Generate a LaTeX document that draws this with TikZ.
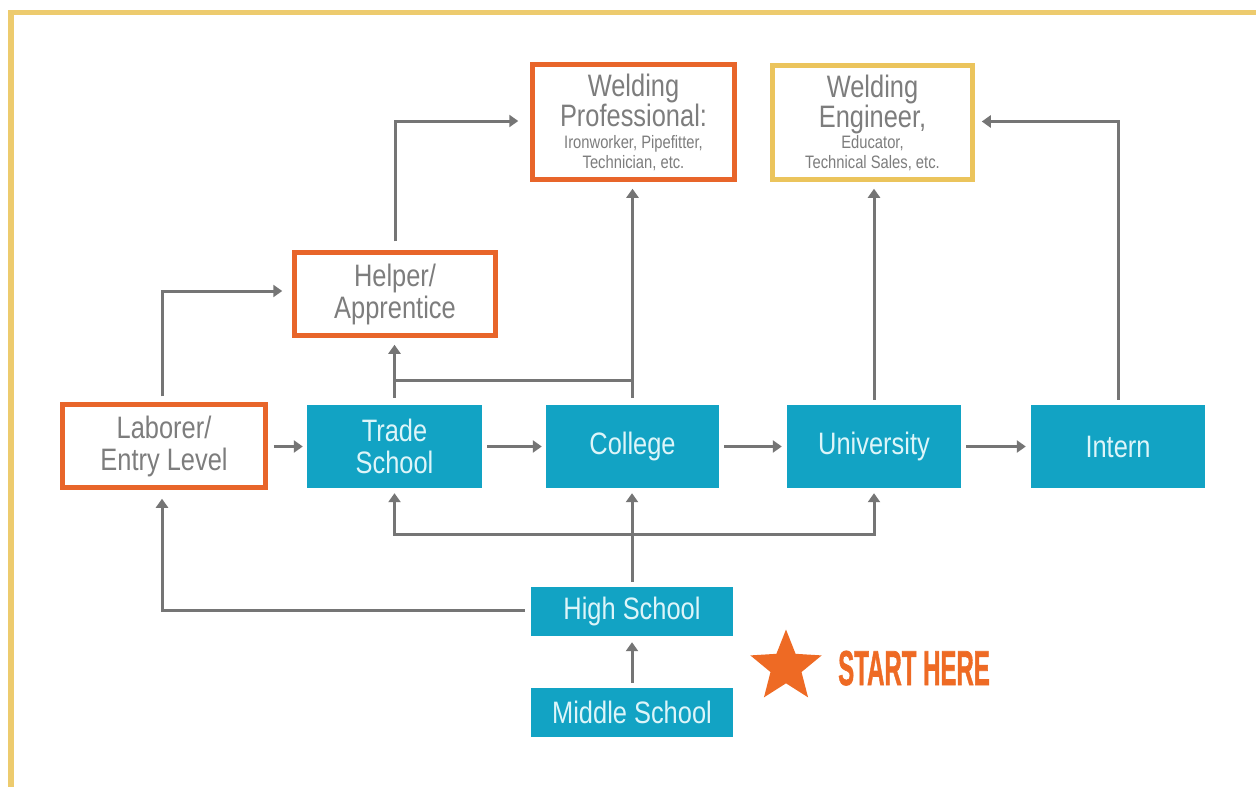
\documentclass[tikz,border=0pt]{standalone}
\usepackage{fontspec}
\setmainfont{Liberation Sans}[FakeStretch=0.82]
\newfontfamily\shfont{Liberation Sans}[FakeBold=1.5]
\usetikzlibrary{arrows.meta,shapes.geometric,calc}
\definecolor{tealc}{HTML}{12A3C4}
\definecolor{orng}{HTML}{E8652A}
\definecolor{goldc}{HTML}{EBC45C}
\definecolor{framec}{HTML}{EDCB6E}
\definecolor{arr}{HTML}{757575}
\definecolor{gtxt}{HTML}{7D7D7D}
\definecolor{ltxt}{HTML}{DDF5F9}
\definecolor{starc}{HTML}{EE6A24}
\newcommand\smalltxt{\fontsize{18}{19}\selectfont}
\begin{document}
\begin{tikzpicture}[x=1pt,y=-1pt,
  tbox/.style={rectangle, fill=tealc, text=ltxt, inner sep=0pt, minimum width=174pt, minimum height=83pt, align=center, font=\fontsize{31}{32}\selectfont},
  obox/.style={rectangle, draw=orng, line width=4.5pt, fill=white, text=gtxt, inner sep=0pt, align=center, font=\fontsize{31}{32}\selectfont},
  conn/.style={draw=arr, line width=3pt, -{Triangle[length=9pt,width=12pt]}},
  conn2/.style={draw=arr, line width=3pt, {Triangle[length=9pt,width=12pt]}-{Triangle[length=9pt,width=12pt]}},
  plain/.style={draw=arr, line width=3pt},
]
\useasboundingbox (0,0) rectangle (1256,787);
\fill[white] (0,0) rectangle (1256,787);
\draw[framec, line width=5.5pt] (11,787) -- (11,12.5) -- (1256,12.5);

% nodes
\node[obox, minimum width=203pt, minimum height=83pt] (lab) at (164,446) {Laborer/\\Entry Level};
\node[tbox, minimum width=175pt] (trade) at (394.5,446.5) {Trade\\School};
\node[tbox, minimum width=173pt] (coll) at (632.5,446.5) {College};
\node[tbox] (univ) at (874,446.5) {University};
\node[tbox] (intern) at (1118,446.5) {Intern};
\node[tbox, minimum width=202pt, minimum height=49pt] (hs) at (632,611.5) {High School};
\node[tbox, minimum width=202pt, minimum height=49pt] (ms) at (632,712.5) {Middle School};
\node[obox, minimum width=201pt, minimum height=83pt] (help) at (395,294) {Helper/\\Apprentice};
\node[obox, minimum width=202pt, minimum height=115pt, font=\fontsize{31}{30}\selectfont] (wp) at (633.5,122) {Welding\\Professional:\\[-8pt]\smalltxt Ironworker, Pipefitter,\\[-10pt]\smalltxt Technician, etc.};
\node[obox, draw=goldc, minimum width=200pt, minimum height=114pt, font=\fontsize{31}{30}\selectfont] (we) at (872.5,122.5) {Welding\\Engineer,\\[-9pt]\smalltxt Educator,\\[-10pt]\smalltxt Technical Sales, etc.};
\node[star, star points=5, star point ratio=2.3, fill=starc, minimum size=75pt, inner sep=0pt] (st) at (786,667) {};
\node[anchor=base west, text=starc, inner sep=0pt] (sh) at (838,685) {\shfont\fontsize{49}{49}\selectfont\bfseries\scalebox{0.49}[1]{START HERE}};

% coordinates for junctions
\coordinate (jt) at (0,380);
\coordinate (jb) at (0,534);

% connectors
\draw[conn, shorten <=6pt, shorten >=4pt] (lab.east |- trade.west) -- (trade.west);
\draw[conn, shorten <=5pt, shorten >=4pt] (trade) -- (coll);
\draw[conn, shorten <=5pt, shorten >=5pt] (coll) -- (univ);
\draw[conn, shorten <=5pt, shorten >=5pt] (univ) -- (intern);
\draw[conn, shorten <=6pt, shorten >=10pt] ([xshift=-2pt]lab.north) |- ([yshift=3pt]help.west);
\draw[conn, shorten <=9pt, shorten >=12pt] (help.north) |- ([yshift=1pt]wp.west);
\draw[conn, shorten <=7pt, shorten >=7pt] (trade.north) -- (trade.north |- help.south);
\draw[conn, shorten <=7pt, shorten >=7pt] (coll.north) -- (coll.north |- wp.south);
\draw[plain] (trade.north |- jt) -- (coll.north |- jt);
\draw[conn, shorten <=5pt, shorten >=7pt] (univ.north) -- (univ.north |- we.south);
\draw[conn, shorten <=5pt, shorten >=7pt] (intern.north) |- ([yshift=1pt]we.east);
\draw[conn, shorten <=5pt, shorten >=5pt] (hs.north) -- (hs.north |- coll.south);
\draw[conn2, shorten <=5pt, shorten >=5pt] (trade.south) -- (trade.south |- jb) -- (univ.south |- jb) -- (univ.south);
\draw[conn, shorten <=6pt, shorten >=9pt] ([yshift=1pt]hs.west) -| ([xshift=-2pt]lab.south);
\draw[conn, shorten <=5pt, shorten >=6pt] (ms.north) -- (hs.south);
\end{tikzpicture}
\end{document}
